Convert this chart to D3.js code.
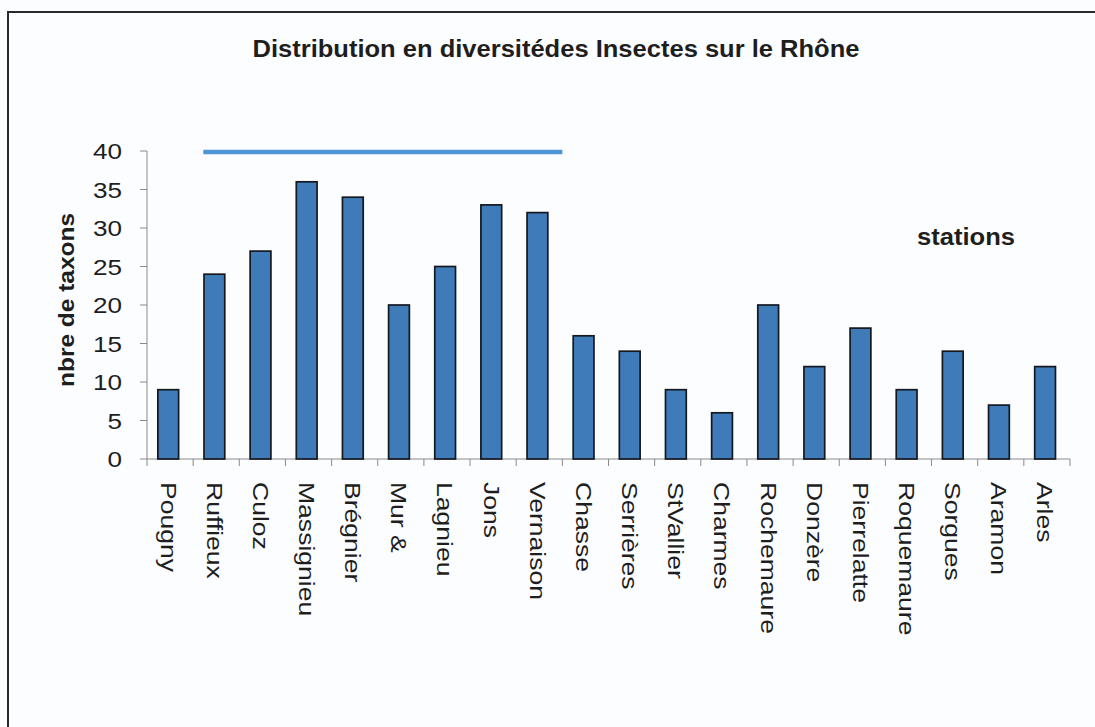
<!DOCTYPE html>
<html>
<head>
<meta charset="utf-8">
<script src="https://cdn.jsdelivr.net/npm/d3@7"></script>
<style>
  html, body { margin: 0; padding: 0; background: #fcfdff; }
  svg { display: block; }
  text { font-family: "Liberation Sans", Arial, Helvetica, sans-serif; fill: #1e1e1e; }
</style>
</head>
<body>
<svg id="chart" width="1095" height="727"></svg>
<script>
// ---- data ----
const stations = ["Pougny","Ruffieux","Culoz","Massignieu","Brégnier","Mur &","Lagnieu","Jons","Vernaison","Chasse","Serrières","StVallier","Charmes","Rochemaure","Donzère","Pierrelatte","Roquemaure","Sorgues","Aramon","Arles"];
const taxons = [9,24,27,36,34,20,25,33,32,16,14,9,6,20,12,17,9,14,7,12];
const yTicks = [0,5,10,15,20,25,30,35,40];
const titleText = "Distribution en diversitédes Insectes sur le Rhône";
const yTitleText = "nbre de taxons";
const xTitleText = "stations";
const refLineValue = 40;
const refLineFrom = "Ruffieux";
const refLineTo = "Vernaison";

(function () {
// ---- layout ----
const svg = d3.select("#chart");
const W = 1095, H = 727;
const mLeft = 147, mRight = 1070, mTop = 151, mBottom = 459;

// frame
svg.append("rect").attr("x", 8).attr("y", 12).attr("width", W + 20).attr("height", H + 20)
  .attr("fill", "#fcfdff").attr("stroke", "#2a2a2a").attr("stroke-width", 2);

const x = d3.scaleBand().domain(stations).range([mLeft, mRight]).padding(0);
const y = d3.scaleLinear().domain([0, 40]).range([mBottom, mTop]);
const bw = x.bandwidth();

// title
svg.append("text").attr("x", 556).attr("y", 57).attr("text-anchor", "middle")
  .attr("font-size", 23).attr("font-weight", "bold")
  .attr("textLength", 607).attr("lengthAdjust", "spacingAndGlyphs")
  .text(titleText);

// y axis
const yAxis = svg.append("g");
yAxis.append("line").attr("x1", mLeft).attr("x2", mLeft).attr("y1", y(40)).attr("y2", y(0))
  .attr("stroke", "#8a8a8a").attr("stroke-width", 1);
yAxis.selectAll("line.tick").data(yTicks).join("line").attr("class", "tick")
  .attr("x1", mLeft - 7).attr("x2", mLeft).attr("y1", d => y(d)).attr("y2", d => y(d))
  .attr("stroke", "#8a8a8a").attr("stroke-width", 1);
yAxis.selectAll("text").data(yTicks).join("text")
  .attr("text-anchor", "end").attr("font-size", 22.5)
  .attr("transform", d => `translate(122,${y(d) + 8}) scale(1.16,1)`)
  .text(d => d);

// y title
svg.append("text").attr("text-anchor", "middle").attr("font-size", 22).attr("font-weight", "bold")
  .attr("transform", "translate(74,300) rotate(-90)")
  .attr("textLength", 174).attr("lengthAdjust", "spacingAndGlyphs")
  .text(yTitleText);

// x axis
const xAxis = svg.append("g");
xAxis.append("line").attr("x1", mLeft).attr("x2", mRight).attr("y1", mBottom).attr("y2", mBottom)
  .attr("stroke", "#8a8a8a").attr("stroke-width", 1);
xAxis.selectAll("line.tick").data(stations.concat(["__end"])).join("line").attr("class", "tick")
  .attr("x1", d => d === "__end" ? mRight : x(d)).attr("x2", d => d === "__end" ? mRight : x(d))
  .attr("y1", mBottom).attr("y2", mBottom + 7)
  .attr("stroke", "#8a8a8a").attr("stroke-width", 1);
xAxis.selectAll("text").data(stations).join("text")
  .attr("font-size", 22.5)
  .attr("transform", d => `translate(${x(d) + bw * 0.47},482) rotate(90) scale(1.18,1)`)
  .attr("dy", "0.36em")
  .text(d => d);

// bars
svg.append("g").selectAll("rect").data(stations).join("rect")
  .attr("x", d => x(d) + bw * 0.235)
  .attr("width", bw * 0.45)
  .attr("y", (d, i) => y(taxons[i]))
  .attr("height", (d, i) => y(0) - y(taxons[i]))
  .attr("fill", "#3e7bb8").attr("stroke", "#14181f").attr("stroke-width", 1.7);

// reference line
svg.append("line")
  .attr("x1", x(refLineFrom) + bw * 0.22).attr("x2", x(refLineTo) + bw)
  .attr("y1", y(refLineValue) + 1).attr("y2", y(refLineValue) + 1)
  .attr("stroke", "#4f95d6").attr("stroke-width", 4.5);

// x title
svg.append("text").attr("x", 917).attr("y", 245).attr("font-size", 23).attr("font-weight", "bold")
  .attr("textLength", 98).attr("lengthAdjust", "spacingAndGlyphs")
  .text(xTitleText);
})();
</script>
</body>
</html>
